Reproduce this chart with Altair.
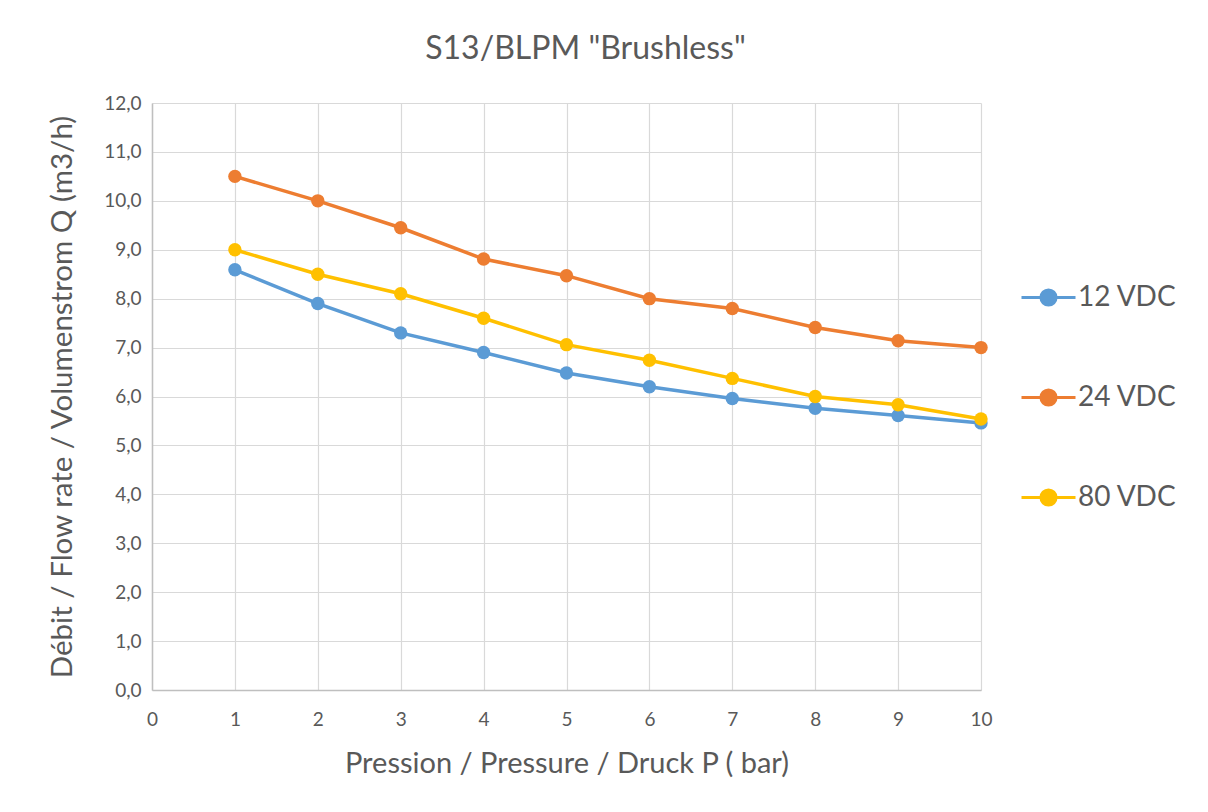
import altair as alt
import pandas as pd

pressure = [1, 2, 3, 4, 5, 6, 7, 8, 9, 10]
series_names = ["12 VDC", "24 VDC", "80 VDC"]
flow_12 = [8.59, 7.90, 7.30, 6.90, 6.48, 6.20, 5.96, 5.76, 5.61, 5.46]
flow_24 = [10.50, 10.00, 9.45, 8.81, 8.47, 8.00, 7.80, 7.41, 7.14, 7.00]
flow_80 = [9.00, 8.50, 8.10, 7.60, 7.06, 6.74, 6.37, 6.00, 5.83, 5.54]
colors = ["#5B9BD5", "#ED7D31", "#FFC000"]
x_ticks = list(range(0, 11))
y_ticks = list(range(0, 13))

rows = []
for name, vals in zip(series_names, [flow_12, flow_24, flow_80]):
    for p, v in zip(pressure, vals):
        rows.append({"P": p, "Q": v, "series": name})
df = pd.DataFrame(rows)

FONT = "Lato"
TXT = "#595959"

legend_path = ("M-1,0L1,0M0.28,0A0.28,0.28 0 1 1 -0.28,0"
               "A0.28,0.28 0 1 1 0.28,0Z")

chart = alt.Chart(df).mark_line(
    strokeWidth=3.5,
    point=alt.OverlayMarkDef(filled=True, size=180, opacity=1),
).encode(
    x=alt.X("P:Q", scale=alt.Scale(domain=[0, 10], nice=False),
            axis=alt.Axis(values=x_ticks, title="Pression / Pressure / Druck P ( bar)",
                          ticks=False, labelPadding=20, labelFontSize=19,
                          labelFlush=False,
                          titleFontSize=29, titleY=82, titleBaseline="alphabetic",
                          domainColor="#BFBFBF", domainWidth=1.5,
                          gridColor="#D9D9D9", gridWidth=1.2)),
    y=alt.Y("Q:Q", scale=alt.Scale(domain=[0, 12], nice=False),
            axis=alt.Axis(values=y_ticks, title="Débit / Flow rate / Volumenstrom Q (m3/h)",
                          ticks=False, labelPadding=11, labelFontSize=19,
                          labelFlush=False,
                          labelExpr="replace(format(datum.value, '.1f'), '.', ',')",
                          titleFontSize=29.5, titleX=-90, titleY=293.5,
                          titleAngle=270, titleBaseline="middle", titleAlign="center",
                          domainColor="#BFBFBF", domainWidth=1.5,
                          gridColor="#D9D9D9", gridWidth=1.2)),
    color=alt.Color("series:N", scale=alt.Scale(domain=series_names, range=colors),
                    legend=alt.Legend(title=None, orient="none", legendX=868, legendY=166,
                                      symbolType=legend_path, symbolSize=2916,
                                      symbolStrokeWidth=3, labelFontSize=28,
                                      labelColor=TXT, labelFont=FONT, rowPadding=57,
                                      labelOffset=1, padding=0)),
).properties(
    width=829, height=587,
    title=alt.TitleParams('S13/BLPM "Brushless"', fontSize=32, font=FONT,
                          color=TXT, fontWeight="normal", anchor="middle",
                          dx=19, offset=28),
    autosize=alt.AutoSizeParams(type="none"),
    padding={"left": 144, "top": 95, "right": 219, "bottom": 114},
).configure_view(
    stroke=None
).configure_axis(
    labelFont=FONT, titleFont=FONT, labelColor=TXT, titleColor=TXT,
    titleFontWeight="normal",
)

chart.save("out.html", embed_options={"renderer": "svg", "actions": False})
